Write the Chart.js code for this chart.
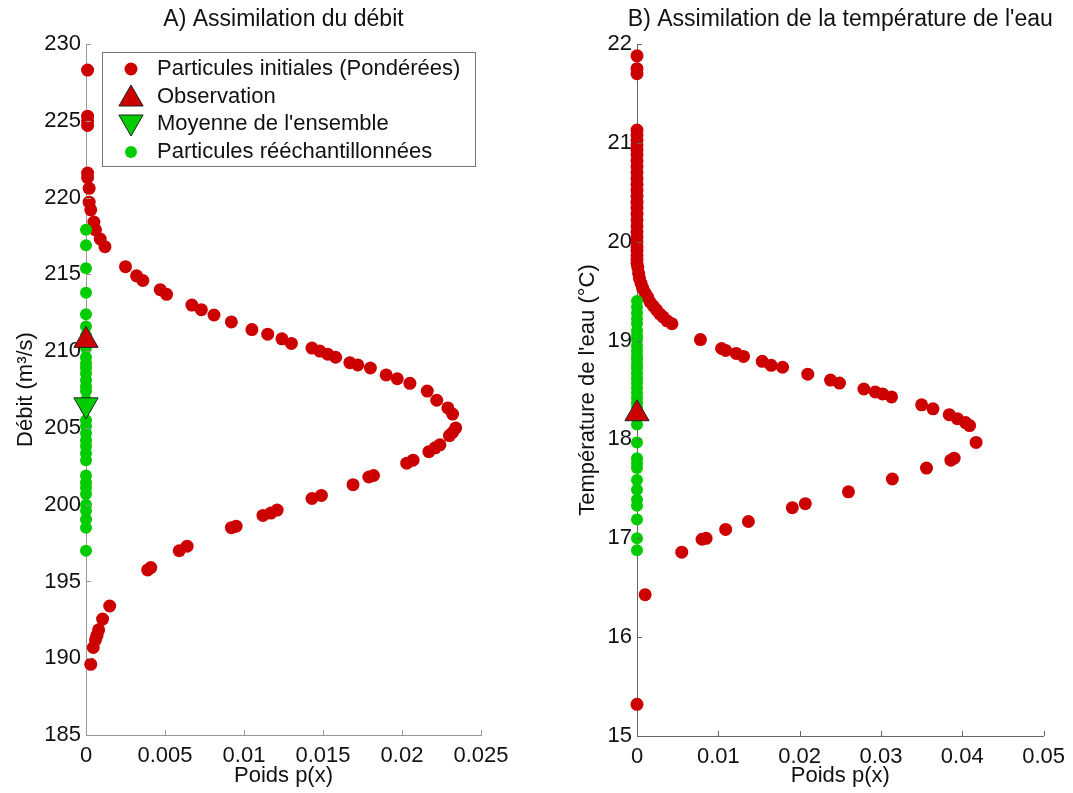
<!DOCTYPE html>
<html>
<head>
<meta charset="utf-8">
<script src="https://cdn.jsdelivr.net/npm/chart.js@4"></script>
<style>
  html, body { margin: 0; padding: 0; background: #fff; }
  #wrap { position: relative; width: 1073px; height: 793px; }
  canvas { position: absolute; top: 0; }
  #chartA { left: 0; }
  #chartB { left: 540px; }
</style>
</head>
<body>
<div id="wrap">
  <canvas id="chartA" width="540" height="793"></canvas>
  <canvas id="chartB" width="533" height="793"></canvas>
</div>
<script>
// A) débit : particules initiales pondérées (poids, débit)
const poidsA = [0.0001, 0.0001, 0.0001, 0.0001, 0.0001, 0.0001, 0.0002, 0.0002, 0.0003, 0.0005,
  0.0006, 0.0009, 0.0012, 0.0025, 0.0032, 0.0036, 0.0047, 0.0051, 0.0067, 0.0073,
  0.0081, 0.0092, 0.0105, 0.0115, 0.0124, 0.0130, 0.0143, 0.0148, 0.0153, 0.0158,
  0.0167, 0.0172, 0.0180, 0.0190, 0.0197, 0.0205, 0.0216, 0.0222, 0.0229, 0.0232,
  0.0234, 0.0232, 0.0230, 0.0224, 0.0221, 0.0217, 0.0207, 0.0203, 0.0182, 0.0179,
  0.0169, 0.0149, 0.0143, 0.0121, 0.0117, 0.0112, 0.0095, 0.0092, 0.0064, 0.0059,
  0.0041, 0.0039, 0.0015, 0.00105, 0.0008, 0.0007, 0.0006, 0.00046, 0.0003];
const debitA = [228.3, 225.3, 225.0, 224.7, 221.6, 221.3, 220.6, 219.7, 219.2, 218.4,
  217.9, 217.3, 216.8, 215.5, 214.9, 214.6, 214.0, 213.7, 213.0, 212.7,
  212.35, 211.9, 211.4, 211.1, 210.8, 210.5, 210.2, 210.0, 209.8, 209.6,
  209.25, 209.1, 208.9, 208.45, 208.2, 207.9, 207.4, 206.8, 206.3, 205.9,
  205.0, 204.7, 204.5, 203.9, 203.7, 203.45, 202.9, 202.7, 201.9, 201.8,
  201.3, 200.6, 200.4, 199.65, 199.45, 199.3, 198.6, 198.5, 197.3, 197.0,
  195.9, 195.75, 193.4, 192.55, 191.85, 191.5, 191.2, 190.7, 189.6];
// particules rééchantillonnées (poids nul)
const reechA = [217.9, 216.9, 215.4, 213.8, 212.4, 211.6, 211.0, 210.5, 210.2, 209.6,
  209.2, 208.9, 208.55, 208.1, 207.7, 207.4, 206.8, 206.3, 205.5, 205.1,
  204.65, 204.2, 203.8, 203.35, 202.9, 201.9, 201.45, 201.1, 200.7, 200.0,
  199.6, 199.05, 198.5, 197.0];
const observationA = 210.7;
const moyenneA = 206.5;

// B) température de l'eau
const poidsB = [0, 0, 0,
  0, 0, 0, 0, 0, 0, 0, 0, 0, 0, 0, 0, 0, 0, 0, 0, 0, 0, 0, 0, 0, 0, 0, 0, 0,
  0, 0.0001, 0.0002, 0.0003, 0.0005, 0.0007, 0.0010, 0.0013, 0.0016, 0.0020,
  0.0024, 0.0028, 0.0032, 0.0037, 0.0043, 0.0078, 0.0104, 0.0109, 0.0122, 0.0131,
  0.0154, 0.0165, 0.0179, 0.0210, 0.0238, 0.0249, 0.0279, 0.0293, 0.0302, 0.0313,
  0.0350, 0.0364, 0.0384, 0.0394, 0.0404, 0.0409, 0.0417, 0.0390, 0.0386, 0.0356,
  0.0314, 0.0260, 0.0207, 0.0191, 0.0137, 0.0109, 0.0085, 0.0080, 0.0055, 0.0010, 0];
const tempB = [21.88, 21.75, 21.70,
  21.13, 21.08, 21.03, 20.98, 20.93, 20.88, 20.82, 20.76, 20.70, 20.64, 20.58, 20.52,
  20.46, 20.40, 20.34, 20.28, 20.22, 20.16, 20.10, 20.05, 20.00, 19.95, 19.91,
  19.86, 19.82,
  19.78, 19.74, 19.68, 19.63, 19.58, 19.53, 19.48, 19.44, 19.39, 19.35,
  19.31, 19.27, 19.24, 19.20, 19.17, 19.01, 18.92, 18.90, 18.87, 18.84,
  18.79, 18.75, 18.73, 18.66, 18.60, 18.57, 18.51, 18.48, 18.46, 18.43,
  18.35, 18.31, 18.25, 18.21, 18.17, 18.14, 17.97, 17.81, 17.79, 17.71,
  17.60, 17.47, 17.35, 17.31, 17.17, 17.09, 17.00, 16.99, 16.86, 16.43, 15.32];
const reechB = [19.40, 19.34, 19.28, 19.22, 19.17, 19.10, 19.05, 19.01, 18.95, 18.90,
  18.85, 18.81, 18.76, 18.72, 18.67, 18.62, 18.57, 18.52, 18.47, 18.42,
  18.37, 18.32, 18.22, 18.15, 17.97, 17.81, 17.76, 17.71, 17.59, 17.49,
  17.39, 17.33, 17.19, 17.00, 16.88];
const observationB = 18.26;

// axes
const xTicksA = [0, 0.005, 0.01, 0.015, 0.02, 0.025];
const xLabelsA = ['0', '0.005', '0.01', '0.015', '0.02', '0.025'];
const yTicksA = [185, 190, 195, 200, 205, 210, 215, 220, 225, 230];
const xTicksB = [0, 0.01, 0.02, 0.03, 0.04, 0.05];
const xLabelsB = ['0', '0.01', '0.02', '0.03', '0.04', '0.05'];
const yTicksB = [15, 16, 17, 18, 19, 20, 21, 22];

const legendLabels = ['Particules initiales (Pondérées)', 'Observation',
  "Moyenne de l'ensemble", 'Particules rééchantillonnées'];

const ROUGE = '#cc0000';
const VERT = '#00cc00';
const FONT = "'Liberation Sans', Arial, sans-serif";
const TXT = 22;

function pts(xs, ys) {
  return ys.map((y, i) => ({ x: Array.isArray(xs) ? xs[i] : xs, y: y }));
}

// titre centré sur la zone de tracé
const plotTitle = {
  id: 'plotTitle',
  afterDraw(chart, args, opts) {
    const ctx = chart.ctx;
    const a = chart.chartArea;
    ctx.save();
    ctx.font = '23px ' + FONT;
    ctx.fillStyle = '#111';
    ctx.textAlign = 'center';
    ctx.textBaseline = 'middle';
    ctx.fillText(opts.text, (a.left + a.right) / 2, 20);
    ctx.restore();
  }
};

// graduations tournées vers l'intérieur
const innerTicks = {
  id: 'innerTicks',
  afterDraw(chart, args, opts) {
    const ctx = chart.ctx;
    const xs = chart.scales.x, ys = chart.scales.y;
    const a = chart.chartArea;
    ctx.save();
    ctx.strokeStyle = opts.color;
    ctx.lineWidth = 1;
    ctx.beginPath();
    xs.ticks.forEach(t => {
      const px = Math.round(xs.getPixelForValue(t.value)) + 0.5;
      ctx.moveTo(px, a.bottom);
      ctx.lineTo(px, a.bottom - 5);
    });
    ys.ticks.forEach(t => {
      const py = Math.round(ys.getPixelForValue(t.value)) + 0.5;
      ctx.moveTo(a.left, py);
      ctx.lineTo(a.left + 5, py);
    });
    ctx.stroke();
    ctx.restore();
  }
};

// légende encadrée dans le graphique A
const boxLegend = {
  id: 'boxLegend',
  afterDraw(chart, args, opts) {
    if (!opts.show) return;
    const ctx = chart.ctx;
    const left = 102, top = 52, w = 373, h = 114;
    ctx.save();
    ctx.fillStyle = '#fff';
    ctx.fillRect(left, top, w, h);
    ctx.strokeStyle = '#777';
    ctx.lineWidth = 1;
    ctx.strokeRect(left + 0.5, top + 0.5, w, h);
    const styles = [
      { pointStyle: 'circle', radius: 6.5, rotation: 0, borderWidth: 0, fill: ROUGE },
      { pointStyle: 'triangle', radius: 14, rotation: 0, borderWidth: 1, fill: ROUGE },
      { pointStyle: 'triangle', radius: 14, rotation: 180, borderWidth: 1, fill: VERT },
      { pointStyle: 'circle', radius: 6, rotation: 0, borderWidth: 0, fill: VERT }
    ];
    const rows = [69, 97, 124, 152];
    ctx.font = TXT + 'px ' + FONT;
    ctx.textBaseline = 'middle';
    ctx.textAlign = 'left';
    legendLabels.forEach((lab, i) => {
      const s = styles[i];
      ctx.fillStyle = s.fill;
      ctx.strokeStyle = '#222';
      ctx.lineWidth = s.borderWidth;
      Chart.helpers.drawPoint(ctx, s, 131, rows[i] + (s.pointStyle === 'triangle' ? (s.rotation ? -2 : 2) : 0));
      ctx.fillStyle = '#111';
      ctx.fillText(lab, 157, rows[i]);
    });
    ctx.restore();
  }
};

function makeOptions(cfg) {
  return {
    responsive: false,
    animation: false,
    devicePixelRatio: 1,
    layout: { padding: cfg.padding },
    plugins: {
      legend: { display: false },
      tooltip: { enabled: false },
      plotTitle: { text: cfg.title },
      innerTicks: { color: cfg.axisColor },
      boxLegend: { show: cfg.legend }
    },
    scales: {
      x: {
        type: 'linear',
        min: cfg.xTicks[0],
        max: cfg.xTicks[cfg.xTicks.length - 1],
        afterBuildTicks: s => { s.ticks = cfg.xTicks.map(v => ({ value: v })); },
        afterFit: s => { s.height = cfg.xHeight; },
        grid: { display: false, drawTicks: false },
        border: { display: true, color: cfg.axisColor, width: 1 },
        ticks: {
          padding: 8,
          color: '#111',
          font: { family: FONT, size: TXT },
          maxRotation: 0,
          callback: v => cfg.xLabels[cfg.xTicks.indexOf(v)]
        },
        title: { display: true, text: 'Poids p(x)', color: '#111', font: { family: FONT, size: TXT } }
      },
      y: {
        type: 'linear',
        min: cfg.yTicks[0],
        max: cfg.yTicks[cfg.yTicks.length - 1],
        afterBuildTicks: s => { s.ticks = cfg.yTicks.map(v => ({ value: v })); },
        afterFit: s => { s.width = cfg.yWidth; },
        grid: { display: false, drawTicks: false },
        border: { display: true, color: cfg.axisColor, width: 1 },
        ticks: {
          padding: 5,
          color: '#111',
          font: { family: FONT, size: TXT },
          callback: v => String(v)
        },
        title: { display: true, text: cfg.yTitle, color: '#111', font: { family: FONT, size: TXT } }
      }
    }
  };
}

function redSet(data) {
  return { data: data, showLine: false, pointStyle: 'circle', pointRadius: 6.5,
    pointBorderWidth: 0, pointBackgroundColor: ROUGE, clip: false, order: 3 };
}
function greenSet(data) {
  return { data: data, showLine: false, pointStyle: 'circle', pointRadius: 6,
    pointBorderWidth: 0, pointBackgroundColor: VERT, clip: false, order: 2 };
}
function triSet(data, color, rot) {
  return { data: data, showLine: false, pointStyle: 'triangle', pointRadius: 14,
    pointRotation: rot, pointBorderWidth: 1, pointBorderColor: '#222',
    pointBackgroundColor: color, clip: false, order: 1 };
}

new Chart(document.getElementById('chartA'), {
  type: 'scatter',
  data: {
    datasets: [
      redSet(pts(poidsA, debitA)),
      greenSet(pts(0, reechA)),
      triSet(pts(0, [observationA]), ROUGE, 0),
      triSet(pts(0, [moyenneA]), VERT, 180)
    ]
  },
  options: makeOptions({
    padding: { left: 9, right: 59, top: 44, bottom: 0 },
    yWidth: 77, xHeight: 58,
    xTicks: xTicksA, xLabels: xLabelsA, yTicks: yTicksA,
    yTitle: 'Débit (m³/s)', title: 'A) Assimilation du débit',
    axisColor: '#999999', legend: true
  }),
  plugins: [plotTitle, innerTicks, boxLegend]
});

new Chart(document.getElementById('chartB'), {
  type: 'scatter',
  data: {
    datasets: [
      redSet(pts(poidsB, tempB)),
      greenSet(pts(0, reechB)),
      triSet(pts(0, [observationB]), ROUGE, 0)
    ]
  },
  options: makeOptions({
    padding: { left: 31, right: 26, top: 44, bottom: 0 },
    yWidth: 66, xHeight: 57,
    xTicks: xTicksB, xLabels: xLabelsB, yTicks: yTicksB,
    yTitle: "Température de l'eau (°C)", title: "B) Assimilation de la température de l'eau",
    axisColor: '#666666', legend: false
  }),
  plugins: [plotTitle, innerTicks, boxLegend]
});
</script>
</body>
</html>
